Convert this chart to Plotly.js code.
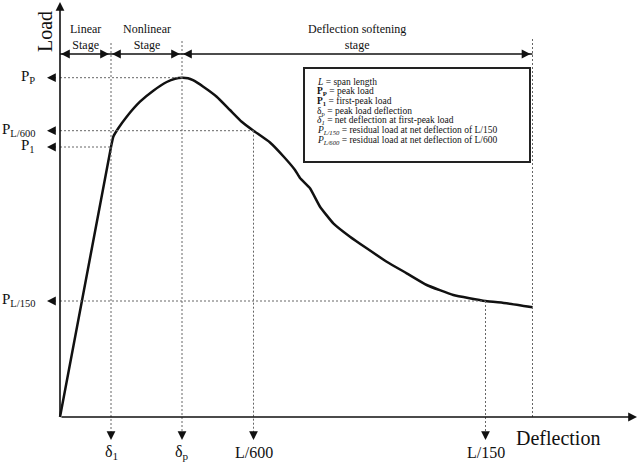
<!DOCTYPE html>
<html>
<head>
<meta charset="utf-8">
<script src="https://cdn.plot.ly/plotly-3.0.1.min.js"></script>
<style>
  html, body { margin: 0; padding: 0; background: #fff; }
  #graph { width: 640px; height: 462px; }
</style>
</head>
<body>
<div id="graph"></div>
<script>
// load - deflection curve (schematic units)
const deflection = [0, 51, 53.3, 58.3, 66.7, 80, 93.3, 106.7, 115, 122, 128, 133, 143.3, 156.7, 170, 181.7, 193.5,
    210, 224, 235, 240, 250, 260, 273.3, 290, 306.7, 326.7, 346.7, 366.7, 393.3, 425.5, 446.7, 472.5];
const load = [0, 270, 280.3, 288.7, 300.3, 315.3, 326.3, 335, 338.3, 339.3, 338.8, 336.8, 330.3, 320.3, 307, 295.3, 286.3,
    274.5, 260, 247, 239, 228.7, 210.3, 193.7, 180.3, 168.7, 155.3, 143.7, 132, 122, 116, 113.7, 109.7];

// marked points on the curve
const deflMarks = [51, 122, 193.5, 425.5];
const deflLabels = ['δ<sub>1</sub>', 'δ<sub>p</sub>', 'L/600', 'L/150'];
const deflTop = [374, 376, 286.3, 116];
const loadMarks = [339.3, 286.3, 270, 116];
const loadLabels = ['P<sub>P</sub>', 'P<sub>L/600</sub>', 'P<sub>1</sub>', 'P<sub>L/150</sub>'];
const loadReach = [122, 193.5, 51, 425.5];

// stages
const stageEdges = [0, 51, 122, 472.5];
const stageNames = ['Linear<br>Stage', 'Nonlinear<br>Stage', 'Deflection softening<br>stage'];

// legend text
const legendLines = [
    '<i>L</i> = span length',
    '<b>P<sub>P</sub></b> = peak load',
    '<b>P<sub>1</sub></b> = first-peak load',
    'δ<sub>p</sub> = peak load deflection',
    '<i>δ<sub>1</sub></i> = net deflection at first-peak load',
    '<i>P<sub>L/150</sub></i> = residual load at net deflection of L/150',
    '<i>P<sub>L/600</sub></i> = residual load at net deflection of L/600'
];

const serif = 'Liberation Serif, Times New Roman, serif';
const dotted = {color: '#666', width: 1, dash: '2px,2px'};
const headerY = 363;

let shapes = [];
let annotations = [];

function arrow(x, y, ax, ay){
    annotations.push({x: x, y: y, ax: ax, ay: ay, xref: 'x', yref: 'y', axref: 'x', ayref: 'y',
        text: '', showarrow: true, arrowhead: 2, arrowsize: 1.1, arrowwidth: 1.6, arrowcolor: '#111'});
}
function label(x, y, text, size, anchor){
    annotations.push({x: x, y: y, xref: 'x', yref: 'y', text: text, showarrow: false,
        xanchor: anchor || 'center', yanchor: 'middle', font: {family: serif, size: size, color: '#111'}});
}

//axes with arrows
arrow(577, 0, 0, 0);
arrow(0, 415, 0, 0);
annotations.push({x: -15, y: 385, xref: 'x', yref: 'y', text: 'Load', textangle: -90, showarrow: false,
    font: {family: serif, size: 20, color: '#111'}});
label(498, -21, 'Deflection', 20);

//vertical dotted lines + down arrows
for (let i = 0; i < deflMarks.length; i++){
    shapes.push({type: 'line', xref: 'x', yref: 'y', x0: deflMarks[i], x1: deflMarks[i], y0: deflTop[i], y1: -16, line: dotted});
    arrow(deflMarks[i], -23, deflMarks[i], -15);
    label(deflMarks[i], -35, deflLabels[i], 16);
}
//horizontal dotted lines + left arrows
for (let i = 0; i < loadMarks.length; i++){
    shapes.push({type: 'line', xref: 'x', yref: 'y', x0: 0, x1: loadReach[i], y0: loadMarks[i], y1: loadMarks[i], line: dotted});
    arrow(-13, loadMarks[i], -3, loadMarks[i]);
    label(-23, loadMarks[i] + 1, loadLabels[i], 15, 'right');
}
//end of softening stage
shapes.push({type: 'line', xref: 'x', yref: 'y', x0: stageEdges[3], x1: stageEdges[3], y0: 378, y1: 0, line: dotted});

//stage header
shapes.push({type: 'line', xref: 'x', yref: 'y', x0: stageEdges[0], x1: stageEdges[3], y0: headerY, y1: headerY,
    line: {color: '#111', width: 1.5}});
for (let i = 0; i < stageNames.length; i++){
    let a = stageEdges[i], b = stageEdges[i + 1];
    arrow(a + 1, headerY, a + 10, headerY);
    arrow(b - 2, headerY, b - 11, headerY);
    label((a + b) / 2, 380, stageNames[i], 12);
}

//legend box
shapes.push({type: 'rect', xref: 'x', yref: 'y', x0: 244, x1: 470, y0: 255, y1: 349,
    line: {color: '#222', width: 2}, fillcolor: 'rgba(0,0,0,0)'});
for (let i = 0; i < legendLines.length; i++){
    label(255, 335 - i * 9.7, legendLines[i], 9.5, 'left');
}

var data = [{
    x: deflection,
    y: load,
    type: 'scatter',
    mode: 'lines',
    line: {color: '#111', width: 2.5, shape: 'spline', smoothing: 0.4},
    hoverinfo: 'skip'
}];

var layout = {
    width: 640,
    height: 462,
    showlegend: false,
    paper_bgcolor: '#fff',
    plot_bgcolor: '#fff',
    margin: {l: 0, r: 0, t: 0, b: 0, pad: 0},
    xaxis: {range: [-60, 580], visible: false, fixedrange: true},
    yaxis: {range: [-45, 417], visible: false, fixedrange: true},
    shapes: shapes,
    annotations: annotations
};
Plotly.newPlot('graph', data, layout, {displayModeBar: false, staticPlot: true});
</script>
</body>
</html>
